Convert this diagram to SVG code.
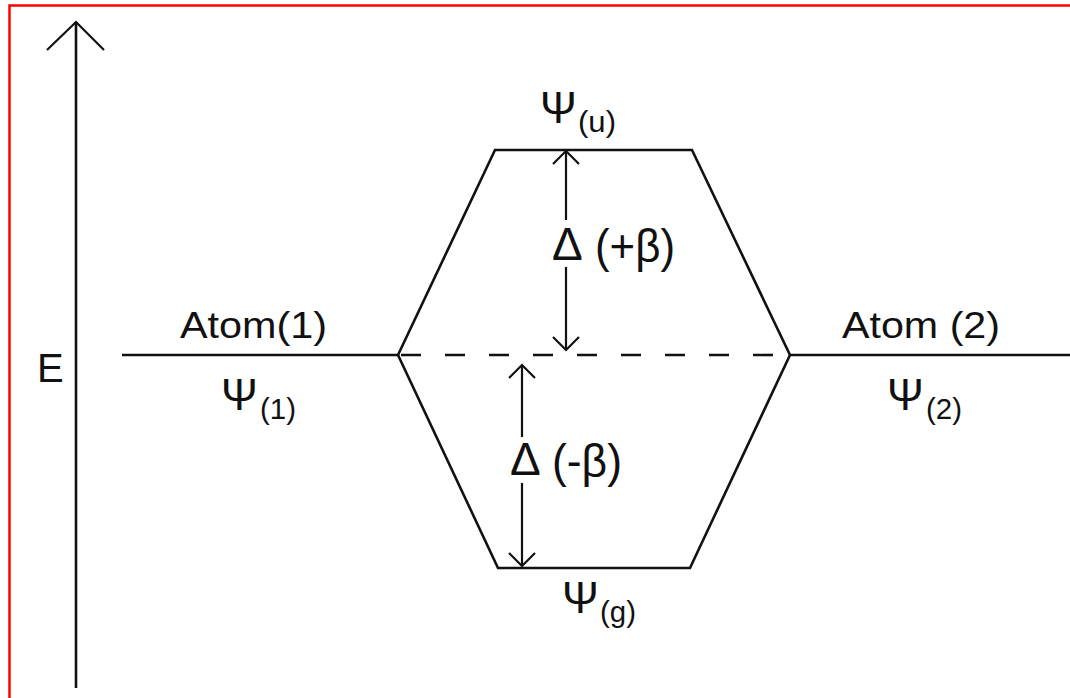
<svg xmlns="http://www.w3.org/2000/svg" width="1070" height="698" viewBox="0 0 1070 698">
<style>
.ln{stroke:#111;stroke-width:2.6;fill:none;stroke-linecap:butt;stroke-linejoin:miter}
.ah{stroke:#111;stroke-width:2.2;fill:none}
.t{font-family:"Liberation Sans",Arial,sans-serif;fill:#111}
.big{font-size:36px}
.psi{font-size:44px}
.sub{font-size:30px}
.dl{font-size:46px}
</style>
<rect width="1070" height="698" fill="#fff"/>
<path d="M9.5,698 V5.5 H1070" stroke="#ff0000" stroke-width="2.5" fill="none"/>
<g id="connectors">
  <path class="ln" d="M76,688 V22"/>
  <path class="ah" d="M47,50 L76,22 L104,50"/>
  <path class="ln" d="M122,355 H398"/>
  <path class="ln" d="M398,355 H790" stroke-dasharray="20 24" stroke-dashoffset="-3"/>
  <path class="ln" d="M790,355 H1070"/>
  <path class="ln" d="M398,355 L495,150 H692 L790,355"/>
  <path class="ln" d="M398,355 L498,568 H690 L790,355"/>
  <path class="ah" d="M566,151 V220 M566,267 V350"/>
  <path class="ah" d="M553,164 L566,151 L579,164"/>
  <path class="ah" d="M553,337 L566,350 L579,337"/>
  <path class="ah" d="M522,365 V437 M522,483 V566"/>
  <path class="ah" d="M509,378 L522,365 L535,378"/>
  <path class="ah" d="M509,553 L522,566 L535,553"/>
</g>
<g id="axis-label"><text class="t" x="37" y="382" font-size="40">E</text></g>
<g id="atom1">
  <text class="t big" x="180" y="338" textLength="147" lengthAdjust="spacingAndGlyphs">Atom(1)</text>
  <text class="t psi" x="221" y="410">Ψ</text><text class="t sub" x="260" y="419" textLength="36" lengthAdjust="spacingAndGlyphs">(1)</text>
</g>
<g id="atom2">
  <text class="t big" x="842" y="338" textLength="158" lengthAdjust="spacingAndGlyphs">Atom (2)</text>
  <text class="t psi" x="887" y="410">Ψ</text><text class="t sub" x="926" y="419" textLength="36" lengthAdjust="spacingAndGlyphs">(2)</text>
</g>
<g id="psi-u">
  <text class="t psi" x="540" y="123">Ψ</text><text class="t sub" x="578" y="132" textLength="38" lengthAdjust="spacingAndGlyphs">(u)</text>
</g>
<g id="psi-g">
  <text class="t psi" x="562" y="613">Ψ</text><text class="t sub" x="600" y="622" textLength="36" lengthAdjust="spacingAndGlyphs">(g)</text>
</g>
<g id="delta-plus">
  <text class="t dl" x="552" y="260">Δ</text><text class="t dl" x="595" y="262" textLength="80" lengthAdjust="spacingAndGlyphs">(+β)</text>
</g>
<g id="delta-minus">
  <text class="t dl" x="510" y="475">Δ</text><text class="t dl" x="552" y="477" textLength="70" lengthAdjust="spacingAndGlyphs">(-β)</text>
</g>
</svg>
